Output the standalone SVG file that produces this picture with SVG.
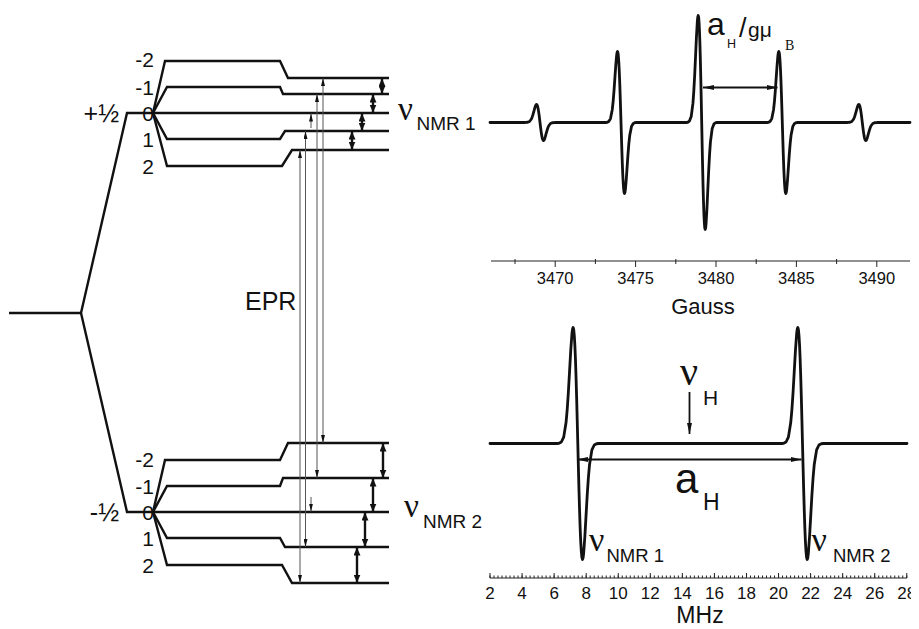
<svg xmlns="http://www.w3.org/2000/svg" width="919" height="629" viewBox="0 0 919 629">
<style>
.lvl{fill:none;stroke:#111;stroke-width:2.4;stroke-linejoin:miter;stroke-linecap:butt}
.t{font-family:"Liberation Sans",Arial,sans-serif;fill:#111}
.nu{font-family:"Liberation Serif","Times New Roman",serif;fill:#111}
.epr{stroke:#555;stroke-width:1;fill:none}
.nmr{stroke:#111;stroke-width:2.4;fill:none}
.spec{fill:none;stroke:#111;stroke-width:2.8;stroke-linejoin:round;stroke-linecap:round}
.ax{stroke:#222;stroke-width:1;fill:none}
.arr{stroke:#111;stroke-width:1.8;fill:none}
</style>
<defs>
<marker id="sm" viewBox="0 0 8 4" refX="8" refY="2" markerWidth="8" markerHeight="4" markerUnits="userSpaceOnUse" orient="auto-start-reverse"><path d="M0,0 L8,2 L0,4 z" fill="#111"/></marker>
<marker id="big" viewBox="0 0 8 7" refX="8" refY="3.5" markerWidth="8" markerHeight="7" markerUnits="userSpaceOnUse" orient="auto-start-reverse"><path d="M0,0 L8,3.5 L0,7 z" fill="#111"/></marker>
<marker id="sa" viewBox="0 0 11 5" refX="11" refY="2.5" markerWidth="11" markerHeight="5" markerUnits="userSpaceOnUse" orient="auto-start-reverse"><path d="M0,0 L11,2.5 L0,5 z" fill="#111"/></marker>
<path id="ls" class="spec" vector-effect="non-scaling-stroke" d="M-4.5,0 L-4,-0.002 L-3.5,-0.013 L-3,-0.055 L-2.5,-0.181 L-2.25,-0.295 L-2,-0.446 L-1.75,-0.624 L-1.5,-0.803 L-1.25,-0.944 L-1.125,-0.985 L-1,-1 L-0.875,-0.984 L-0.75,-0.933 L-0.625,-0.848 L-0.5,-0.728 L-0.375,-0.576 L-0.25,-0.4 L-0.125,-0.205 L0,0 L0.125,0.205 L0.25,0.4 L0.375,0.576 L0.5,0.728 L0.625,0.848 L0.75,0.933 L0.875,0.984 L1,1 L1.125,0.985 L1.25,0.944 L1.5,0.803 L1.75,0.624 L2,0.446 L2.25,0.295 L2.5,0.181 L3,0.055 L3.5,0.013 L4,0.002 L4.5,0"/>
<clipPath id="clipR"><rect x="0" y="0" width="911" height="629"/></clipPath>
</defs>

<g id="zero-field">
<path class="lvl" d="M9,313 H81"/>
</g>

<g id="ms-plus-half">
<path class="lvl" d="M81,313 L127,113 H389"/>
<text class="t" x="119" y="122" font-size="25" text-anchor="end">+½</text>
</g>

<g id="upper-nuclear-levels">
<path class="lvl" d="M153,113 L165,61 H280 L288,78 H389"/>
<path class="lvl" d="M153,113 L167,87 H280 L283,94 H389"/>
<path class="lvl" d="M153,113 L167,139 H280 L285,131 H389"/>
<path class="lvl" d="M153,113 L167,166 H282 L292,150 H389"/>
<g class="t" font-size="21" text-anchor="end">
<text x="154" y="67">-2</text>
<text x="154" y="95">-1</text>
<text x="154" y="121">0</text>
<text x="154" y="147">1</text>
<text x="154" y="174">2</text>
</g>
</g>

<g id="ms-minus-half">
<path class="lvl" d="M81,313 L127,512 H389"/>
<text class="t" x="119" y="521" font-size="25" text-anchor="end">-½</text>
</g>

<g id="lower-nuclear-levels">
<path class="lvl" d="M153,512 L165,460 H280 L288,443 H389"/>
<path class="lvl" d="M153,512 L167,486 H280 L283,478 H389"/>
<path class="lvl" d="M153,512 L167,538 H280 L285,547 H389"/>
<path class="lvl" d="M153,512 L167,565 H282 L292,583 H389"/>
<g class="t" font-size="21" text-anchor="end">
<text x="154" y="467">-2</text>
<text x="154" y="494">-1</text>
<text x="154" y="520">0</text>
<text x="154" y="546">1</text>
<text x="154" y="573">2</text>
</g>
</g>

<g id="connectors">
<line class="epr" x1="300" y1="150" x2="300" y2="583" marker-start="url(#sm)" marker-end="url(#sm)"/>
<line class="epr" x1="305.5" y1="131" x2="305.5" y2="547" marker-start="url(#sm)" marker-end="url(#sm)"/>
<line class="epr" x1="311" y1="128" x2="311" y2="113.5" marker-end="url(#sm)"/>
<line class="epr" x1="311" y1="497" x2="311" y2="511.5" marker-end="url(#sm)"/>
<line class="epr" x1="317" y1="94" x2="317" y2="478" marker-start="url(#sm)" marker-end="url(#sm)"/>
<line class="epr" x1="323" y1="78" x2="323" y2="443" marker-start="url(#sm)" marker-end="url(#sm)"/>
<line class="nmr" x1="382" y1="78.5" x2="382" y2="93.5" marker-start="url(#big)" marker-end="url(#big)"/>
<line class="nmr" x1="373" y1="94.5" x2="373" y2="112.5" marker-start="url(#big)" marker-end="url(#big)"/>
<line class="nmr" x1="362" y1="113.5" x2="362" y2="130.5" marker-start="url(#big)" marker-end="url(#big)"/>
<line class="nmr" x1="352" y1="131.5" x2="352" y2="149.5" marker-start="url(#big)" marker-end="url(#big)"/>
<line class="nmr" x1="383" y1="443.5" x2="383" y2="477.5" marker-start="url(#big)" marker-end="url(#big)"/>
<line class="nmr" x1="373" y1="478.5" x2="373" y2="511.5" marker-start="url(#big)" marker-end="url(#big)"/>
<line class="nmr" x1="365" y1="512.5" x2="365" y2="546.5" marker-start="url(#big)" marker-end="url(#big)"/>
<line class="nmr" x1="357" y1="547.5" x2="357" y2="582.5" marker-start="url(#big)" marker-end="url(#big)"/>
</g>

<g id="labels-left">
<text class="t" x="245" y="310" font-size="25">EPR</text>
<text class="nu" x="398" y="120" font-size="33">ν</text>
<text class="t" x="416.5" y="130" font-size="19">NMR 1</text>
<text class="nu" x="404" y="517" font-size="33">ν</text>
<text class="t" x="423" y="528" font-size="19">NMR 2</text>
</g>

<g id="epr-spectrum">
<path class="spec" d="M490,122.5 H524.25 M555.75,122.5 H605.25 M636.75,122.5 H685.95 M717.45,122.5 H766.55 M798.05,122.5 H846.55 M878.05,122.5 H910"/>
<use href="#ls" transform="translate(540,122.5) scale(3.5,18)"/>
<use href="#ls" transform="translate(621,122.5) scale(3.5,71)"/>
<use href="#ls" transform="translate(701.7,122.5) scale(3.5,107)"/>
<use href="#ls" transform="translate(782.3,122.5) scale(3.5,71)"/>
<use href="#ls" transform="translate(862.3,122.5) scale(3.5,18)"/>
<line class="arr" x1="703" y1="87.5" x2="777.5" y2="87.5" marker-start="url(#sa)" marker-end="url(#sa)"/>
<text class="t" x="707" y="35" font-size="32">a</text>
<text class="t" x="727" y="48" font-size="12.5">H</text>
<text class="t" x="739" y="37" font-size="27">/</text>
<text class="t" x="748" y="37" font-size="21">gμ</text>
<text class="nu" x="785" y="50" font-size="14">B</text>
<path class="ax" d="M491,261 H910 M555.2,261 v6 M635.6,261 v6 M716,261 v6 M796.4,261 v6 M876.8,261 v6 M515,259 v5 M595.4,259 v5 M675.8,259 v5 M756.2,259 v5 M836.6,259 v5"/>
<g class="t" font-size="16.5" text-anchor="middle">
<text x="555.2" y="283.5">3470</text>
<text x="635.6" y="283.5">3475</text>
<text x="716" y="283.5">3480</text>
<text x="796.4" y="283.5">3485</text>
<text x="876.8" y="283.5">3490</text>
</g>
<text class="t" x="703" y="314" font-size="22" text-anchor="middle">Gauss</text>
</g>

<g id="endor-spectrum">
<path class="spec" d="M490,443.5 H556.65 M598.95,443.5 H781.35 M823.65,443.5 H907"/>
<use href="#ls" transform="translate(577.8,443.5) scale(4.7,116)"/>
<use href="#ls" transform="translate(802.5,443.5) scale(4.7,116)"/>
<line class="arr" x1="577" y1="459.5" x2="801.5" y2="459.5" marker-start="url(#sa)" marker-end="url(#sa)"/>
<line class="arr" x1="689.5" y1="392" x2="689.5" y2="434" stroke-width="1.5" marker-end="url(#sa)"/>
<text class="nu" x="680" y="385" font-size="40">ν</text>
<text class="t" x="703" y="405" font-size="21">H</text>
<text class="t" x="675" y="493" font-size="42">a</text>
<text class="t" x="703" y="510" font-size="23">H</text>
<text class="nu" x="589" y="551" font-size="34">ν</text>
<text class="t" x="606.5" y="561.5" font-size="18.5">NMR 1</text>
<text class="nu" x="811.5" y="551" font-size="34">ν</text>
<text class="t" x="833" y="561.5" font-size="18.5">NMR 2</text>
<path class="ax" d="M490,578 H907"/>
<path d="M489.5,576.75 H907.5" stroke="#222" stroke-width="2.5" stroke-dasharray="1 3.0075"/>
<path d="M489.5,575.5 H907.5" stroke="#222" stroke-width="5" stroke-dasharray="1 31.06"/>
<g class="t" font-size="17" text-anchor="middle" clip-path="url(#clipR)">
<text x="490" y="599">2</text>
<text x="522.06" y="599">4</text>
<text x="554.12" y="599">6</text>
<text x="586.18" y="599">8</text>
<text x="618.24" y="599">10</text>
<text x="650.3" y="599">12</text>
<text x="682.36" y="599">14</text>
<text x="714.42" y="599">16</text>
<text x="746.48" y="599">18</text>
<text x="778.54" y="599">20</text>
<text x="810.6" y="599">22</text>
<text x="842.66" y="599">24</text>
<text x="874.72" y="599">26</text>
<text x="906.78" y="599">28</text>
</g>
<text class="t" x="700" y="623" font-size="23" text-anchor="middle">MHz</text>
</g>
</svg>
